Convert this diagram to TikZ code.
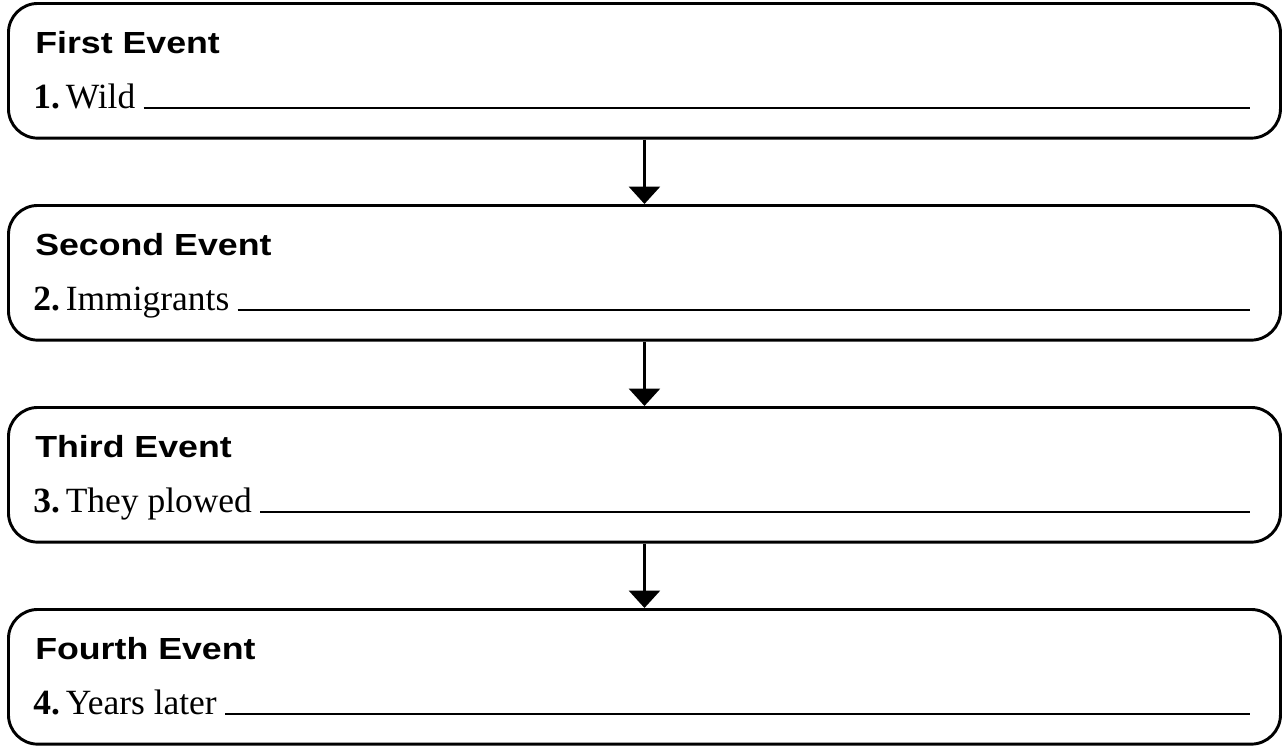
\documentclass[tikz,border=0pt]{standalone}
\usepackage{fontspec}
\setmainfont{Liberation Serif}
\newfontfamily\headfont[FakeStretch=1.17]{Liberation Sans}
\usetikzlibrary{arrows.meta}

\tikzset{
  eventbox/.style={draw, line width=2.2pt, rounded corners=22pt, minimum width=954pt, minimum height=101pt, inner sep=0pt},
  eventhead/.style={anchor=base west, inner sep=0pt, font=\headfont\bfseries\fontsize{22.9}{26}\selectfont},
  eventline/.style={anchor=base west, inner sep=0pt, font=\fontsize{26.6}{30}\selectfont},
  blank/.style={line width=1.1pt},
  flow/.style={line width=2.6pt, -{Triangle[width=23pt,length=13pt]}}
}

\begin{document}
\begin{tikzpicture}[x=0.75pt,y=-0.75pt]
    \useasboundingbox (0,0) rectangle (1284,746);

    \foreach \i/\ttl/\txt in {1/First/Wild, 2/Second/Immigrants, 3/Third/They plowed, 4/Fourth/Years later}{
        \pgfmathsetmacro{\ytop}{2+(\i-1)*202}
        \node[eventbox, anchor=north west] (box\i) at (7,\ytop) {};
        \node[eventhead] (head\i) at (35,\ytop+51) {\ttl{} Event};
        \node[eventline] (item\i) at (33,\ytop+106) {\textbf{\i.}\,\txt};
        \coordinate (end\i) at (1250,\ytop+106);
        \draw[blank] ([xshift=6pt]item\i.base east) -- (end\i);
    }

    \foreach \i/\j in {1/2, 2/3, 3/4}
        \draw[flow] (box\i.south) -- (box\j.north);
\end{tikzpicture}
\end{document}
